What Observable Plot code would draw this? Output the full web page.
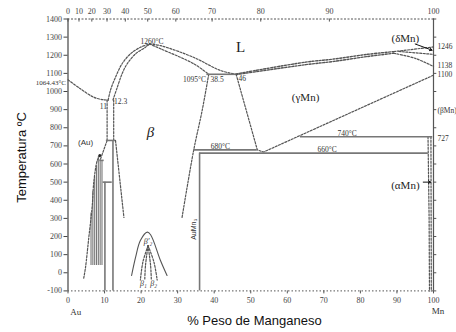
<!DOCTYPE html>
<html><head><meta charset="utf-8">
<script src="https://cdn.jsdelivr.net/npm/d3@7"></script>
<script src="https://cdn.jsdelivr.net/npm/@observablehq/plot@0.6"></script>
<style>body{margin:0;background:#fff}</style>
</head><body><div id="chart"></div>
<script>
// ---- axes ----
const yTicks = [-100,0,100,200,300,400,500,600,700,800,900,1000,1100,1200,1300,1400];
const xTicks = [0,10,20,30,40,50,60,70,80,90,100];          // weight % Mn (bottom)
const atTicks = [0,10,20,30,40,50,60,70,80,90,100];         // atomic % Mn (top)
const massAu = 196.97, massMn = 54.94;
const atToWt = a => 100*a*massMn/(a*massMn + (100-a)*massAu);

// ---- phase boundaries [wt% Mn, °C] ----
const liqAu        = [[0,1064.43],[3.4,1015],[7.1,968],[9.8,954],[11,953]];
const liqBetaLeft  = [[11,953],[11.6,1006],[13.0,1079],[14.8,1153],[17.1,1208],[19.8,1244],[22.3,1262]];
const solBetaLeft  = [[12.3,953],[13.5,1024],[14.8,1098],[16.2,1153],[18.5,1208],[21.2,1244],[22.3,1262]];
const liqBetaRight = [[22.3,1262],[25.3,1253],[34.3,1189],[41.7,1116],[46,1095]];
const solBetaRight = [[22.3,1262],[25.3,1236],[34.4,1153],[38.5,1095]];
const betaSolvus   = [[38.5,1095],[36.7,895],[34.4,678],[31.2,305]];
const gammaLeft    = [[46,1095],[51.8,678],[53.5,666],[100,1090]];
const liqGamma     = [[46,1097],[65,1162],[72.7,1179],[81.9,1205],[89.1,1220]];
const solGamma     = [[46,1093],[65,1148],[72.7,1166],[81.9,1193],[89.1,1211]];
const liqDelta     = [[89.1,1220],[100,1246]];
const solDelta     = [[90.5,1221],[100,1205]];
const deltaGamma   = [[89.1,1211],[95,1183],[100,1138]];
const auSolvus     = [[4.3,-30],[4.8,31],[5.7,196],[6.6,362],[7.1,509],[8.0,619],[8.7,647]];
const betaLeftA    = [[10.7,953],[10.7,730]];
const betaLeftB    = [[12.5,953],[12.5,730]];
const betaLowLeft  = [[10.7,730],[8.8,622]];
const betaLowRight = [[13.0,730],[15.3,305]];
const alphaMnA     = [[98.5,750],[98.8,300],[98.9,-100]];
const alphaMnB     = [[99.3,750],[99.4,-100]];
const dome         = [[17.4,-15],[18.5,86],[19.8,178],[21.7,224],[22.6,210],[25.3,68],[27.1,-15]];
const domeInner1   = [[21.9,150],[20.5,60],[19.8,-40]];
const domeInner2   = [[21.9,150],[23.5,60],[24.4,-40]];
const domeInner3   = [[21.9,150],[21.2,40],[21.0,-40]];
const domeInner4   = [[21.9,150],[22.6,40],[22.8,-40]];

// ordered (Au) lines
const auOrderedX   = [6.3,6.8,7.3,7.8,8.3,8.8,9.3];
const auOrderedTop = [330,450,530,590,640,625,615];
const auOrderedBottom = 40;

// solid isotherms [x1, x2, T]
const isotherms = [[38,46,1095],[34.4,51.8,678],[63.6,99.8,750],[36,98.6,660],[9.6,12.1,500],[10.5,13.0,730],[8.7,9.9,620]];
// solid verticals [x, T1, T2]
const verticals = [[36,660,-100],[10.1,500,-100],[12.3,730,-100]];

// ---- labels ----
const smallNotes = [
  {t:"1260°C",x:23,y:1277},{t:"1095°C",x:34.6,y:1068},{t:"38.5",x:40.8,y:1064},{t:"46",x:47.7,y:1070},
  {t:"11",x:9.7,y:917},{t:"12.3",x:14.4,y:946},{t:"680°C",x:41.7,y:696},{t:"740°C",x:76.4,y:770},{t:"660°C",x:70.9,y:677}
];
const rightNotes = [{t:"1246",y:1246},{t:"1138",y:1143},{t:"1100",y:1095},{t:"(βMn)",y:895},{t:"727",y:740}];
const phaseNotes = [{t:"(γMn)",x:65,y:968},{t:"(δMn)",x:92.3,y:1290},{t:"(αMn)",x:92.3,y:482}];
const arrows = [{x1:95,y1:1262,x2:99.6,y2:1228},{x1:97.2,y1:500,x2:99.2,y2:500}];

const X = d => d[0], Y = d => d[1];
const serif = "'Liberation Serif','DejaVu Serif',serif";
const sans = "'Liberation Sans',Arial,sans-serif";
const dash = {x: X, y: Y, stroke: "#555", strokeWidth: 1.2, strokeDasharray: "2,1.5"};
const dashCurve = {...dash, curve: "catmull-rom"};

const chart = Plot.plot({
  width: 456, height: 332,
  marginLeft: 67.5, marginRight: 23, marginTop: 18.5, marginBottom: 41.6,
  x: {domain: [0,100]},
  y: {domain: [-100,1400]},
  style: {background: "#fff", fontFamily: serif},
  marks: [
    // frame
    Plot.ruleX([0], {stroke: "#444", strokeWidth: 1.2}),
    Plot.ruleX([100], {stroke: "#555", strokeWidth: 1.2}),
    Plot.ruleY([-100], {stroke: "#555", strokeDasharray: "1.5,2"}),
    Plot.ruleY([1400], {stroke: "#555", strokeDasharray: "2,1.5"}),
    Plot.axisY(yTicks, {anchor: "left", tickSize: 4, tickPadding: 2, tickFormat: d => String(d), fontSize: 8, fontFamily: serif, fill: "#444", stroke: "#444", label: null}),
    Plot.ruleY(yTicks, {x1: 100, x2: 100.9, stroke: "#555"}),
    Plot.axisX(xTicks, {anchor: "bottom", tickSize: 3, tickPadding: 3, tickFormat: d => String(d), fontSize: 8, fontFamily: serif, fill: "#444", stroke: "#555", label: null}),
    Plot.ruleX(atTicks, {x: atToWt, y1: 1400, y2: 1383, stroke: "#555"}),
    Plot.text(atTicks, {x: atToWt, y: 1400, dy: -8, text: d => String(d), fontSize: 8, fontFamily: serif, fill: "#444"}),

    // Au side ordered lines
    Plot.ruleX(auOrderedX, {x: d => d, y1: auOrderedBottom, y2: (d,i) => auOrderedTop[i], stroke: "#777", strokeWidth: 1.1}),
    Plot.line(auSolvus, dashCurve),
    Plot.dot([auSolvus[auSolvus.length-1]], {x: X, y: Y, r: 1.5, fill: "#222"}),

    // liquidus / solidus
    Plot.line(liqAu, dashCurve),
    Plot.line(liqBetaLeft, dashCurve),
    Plot.line(solBetaLeft, dashCurve),
    Plot.line(liqBetaRight, dashCurve),
    Plot.line(solBetaRight, dashCurve),
    Plot.line(betaSolvus, dashCurve),
    Plot.line(gammaLeft, dash),
    Plot.line(liqGamma, {...dashCurve, strokeWidth: 1.4}),
    Plot.line(solGamma, {...dashCurve, strokeWidth: 1.4}),
    Plot.line(liqDelta, dash),
    Plot.line(solDelta, dash),
    Plot.line(deltaGamma, dashCurve),
    Plot.line(betaLeftA, dash),
    Plot.line(betaLeftB, dash),
    Plot.line(betaLowLeft, dash),
    Plot.line(betaLowRight, dash),
    Plot.line(alphaMnA, dash),
    Plot.line(alphaMnB, dash),

    // solid lines
    Plot.ruleY(isotherms, {x1: d => d[0], x2: d => d[1], y: d => d[2], stroke: "#777", strokeWidth: 1.6}),
    Plot.ruleX(verticals, {x: d => d[0], y1: d => d[1], y2: d => d[2], stroke: "#777", strokeWidth: 1.6}),

    // beta1/beta2 dome
    Plot.line(dome, {x: X, y: Y, stroke: "#555", strokeWidth: 1.1, curve: "catmull-rom"}),
    Plot.line(domeInner1, dashCurve),
    Plot.line(domeInner2, dashCurve),
    Plot.line(domeInner3, dashCurve),
    Plot.line(domeInner4, dashCurve),
    Plot.text(["β′₂"], {x: 21.9, y: 172, fontSize: 8, fontStyle: "italic", fill: "#333"}),
    Plot.text(["β₁"], {x: 20.6, y: -58, fontSize: 8, fontStyle: "italic", fill: "#333"}),
    Plot.text(["β₂"], {x: 23.4, y: -58, fontSize: 8, fontStyle: "italic", fill: "#333"}),

    // labels
    Plot.text(smallNotes, {x: "x", y: "y", text: "t", fontSize: 7.5, fontFamily: serif, fill: "#333"}),
    Plot.text(["1064.43°C"], {x: 0, y: 1048, dx: -2, textAnchor: "end", fontSize: 7, fill: "#333"}),
    Plot.text(rightNotes, {x: 100, y: "y", text: "t", dx: 4, textAnchor: "start", fontSize: 7.5, fill: "#333"}),
    Plot.text(phaseNotes, {x: "x", y: "y", text: "t", fontSize: 11, fill: "#222"}),
    Plot.arrow(arrows, {x1: "x1", y1: "y1", x2: "x2", y2: "y2", stroke: "#111", strokeWidth: 1, headLength: 4}),
    Plot.text(["L"], {x: 47.2, y: 1243, fontSize: 15, fill: "#222"}),
    Plot.text(["β"], {x: 22.6, y: 775, fontSize: 15, fontStyle: "italic", fill: "#222"}),
    Plot.text(["(Au)"], {x: 4.8, y: 717, fontSize: 8, fontFamily: sans, fill: "#333"}),
    Plot.text(["AuMn₃"], {x: 34.4, y: 240, rotate: -90, fontSize: 7, fontFamily: sans, fill: "#333"}),
    Plot.text(["Au"], {x: 2.1, y: -215, fontSize: 9, fill: "#333"}),
    Plot.text(["Mn"], {x: 101.2, y: -213, fontSize: 9, fill: "#333"}),

    // axis titles
    Plot.text(["Temperatura ºC"], {x: -12.7, y: 636, rotate: -90, fontSize: 13, fontFamily: sans, fill: "#111"}),
    Plot.text(["% Peso de Manganeso"], {x: 51, y: -263, fontSize: 13, fontFamily: sans, fill: "#111"})
  ]
});
document.getElementById("chart").appendChild(chart);
</script>
</body></html>
